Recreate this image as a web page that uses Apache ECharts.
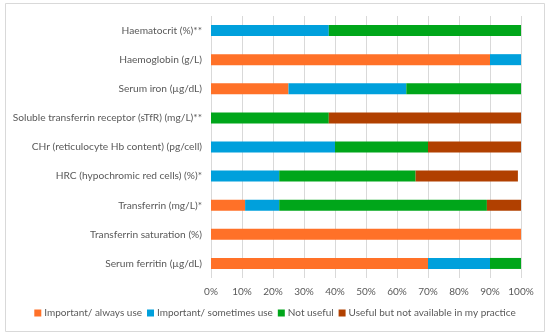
<!DOCTYPE html>
<html><head><meta charset="utf-8">
<script src="https://cdn.jsdelivr.net/npm/echarts@6/dist/echarts.min.js"></script>
<style>html,body{margin:0;padding:0;background:#fff}#c{width:550px;height:336px}</style>
</head><body><div id="c"></div>
<script>
const categories = ["Haematocrit (%)**","Haemoglobin (g/L)","Serum iron (µg/dL)","Soluble transferrin receptor (sTfR) (mg/L)**","CHr (reticulocyte Hb content) (pg/cell)","HRC (hypochromic red cells) (%)*","Transferrin (mg/L)*","Transferrin saturation (%)","Serum ferritin (µg/dL)"];
const seriesNames = ["Important/ always use","Important/ sometimes use","Not useful","Useful but not available in my practice"];
const alwaysUse    = [0, 90, 25, 0, 0, 0, 11, 100, 70];
const sometimesUse = [38, 10, 38, 0, 40, 22, 11, 0, 20];
const notUseful    = [62, 0, 37, 38, 30, 44, 67, 0, 10];
const notAvailable = [0, 0, 0, 62, 30, 33, 11, 0, 0];
const xTicks = [0,10,20,30,40,50,60,70,80,90,100];
const colors = ["#FF7128","#00A0DC","#00A61A","#B14000"];
const values = [alwaysUse, sometimesUse, notUseful, notAvailable];
const font = "Lato, 'Liberation Sans', sans-serif";
const chart = echarts.init(document.getElementById('c'));
chart.setOption({
  animation:false,
  backgroundColor:'#fff',
  graphic:[{type:'rect',shape:{x:5.5,y:3.5,width:539,height:328},style:{fill:'none',stroke:'#D9D9D9',lineWidth:1}}],
  grid:{left:211,right:29,top:16,bottom:58,containLabel:false},
  legend:{bottom:13,left:'center',itemWidth:7,itemHeight:7,itemGap:5,icon:'rect',
    textStyle:{color:'#595959',fontSize:10,fontFamily:font,padding:[0,0,0,-2]},data:seriesNames},
  xAxis:{type:'value',min:0,max:100,interval:10,
    axisLabel:{formatter:v=>v+'%',color:'#595959',fontSize:10,fontFamily:font,margin:9},
    splitLine:{lineStyle:{color:'#D9D9D9'}},axisLine:{show:false},axisTick:{show:false}},
  yAxis:{type:'category',inverse:true,data:categories,
    axisLabel:{color:'#595959',fontSize:10.2,fontFamily:font,margin:9},
    axisLine:{show:false},axisTick:{show:false}},
  series: seriesNames.map((n,i)=>({name:n,type:'bar',stack:'s',barWidth:11,
    itemStyle:{color:colors[i]},data:values[i]}))
});
</script></body></html>
